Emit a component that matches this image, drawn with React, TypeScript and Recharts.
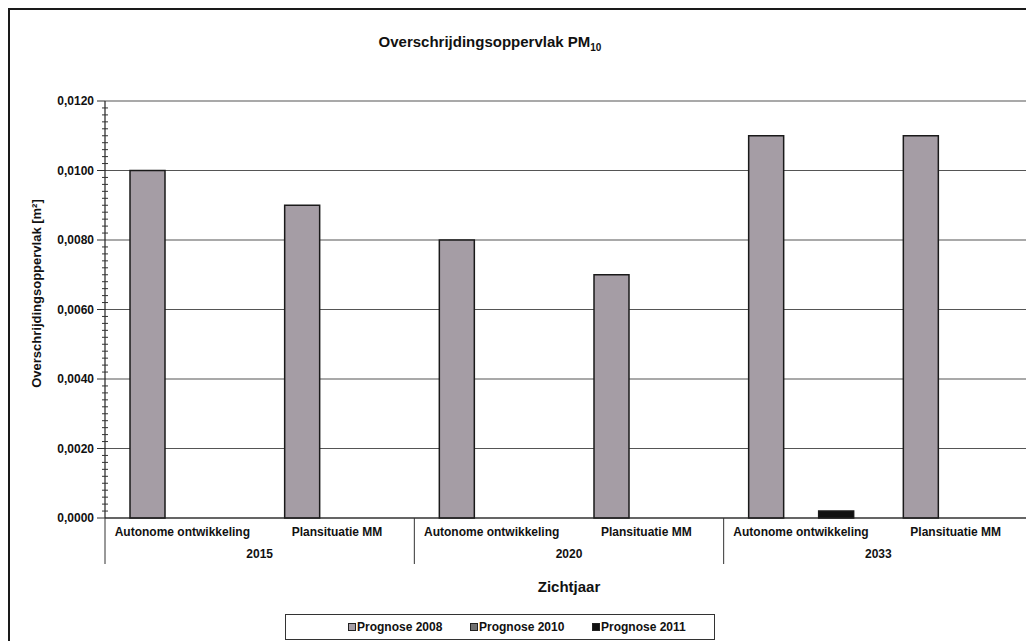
import React from "react";
import { BarChart, Bar, XAxis, YAxis, CartesianGrid, Legend } from "recharts";

const categories = [
  "Autonome ontwikkeling",
  "Plansituatie MM",
  "Autonome ontwikkeling",
  "Plansituatie MM",
  "Autonome ontwikkeling",
  "Plansituatie MM",
];
const years = ["2015", "2020", "2033"];

const prognose2008 = [0.01, 0.009, 0.008, 0.007, 0.011, 0.011];
const prognose2010: (number | null)[] = [null, null, null, null, null, null];
const prognose2011: (number | null)[] = [null, null, null, null, 0.0002, null];

const yMajorTicks = [0, 0.002, 0.004, 0.006, 0.008, 0.01, 0.012];
const MINOR_STEP = 0.0002;

const FONT = '"Liberation Sans", Arial, sans-serif';
const W = 1036;
const H = 646;
const M = { top: 91, right: 13, left: 10, bottom: 22 };
const Y_W = 85;
const X_H = 90;
const catW = (W - M.left - M.right - Y_W) / categories.length;

const data = categories.map((name, i) => ({
  id: i,
  name,
  year: years[Math.floor(i / 2)],
  p2008: prognose2008[i],
  p2010: prognose2010[i],
  p2011: prognose2011[i],
}));

// minor tick marks every 0.0002 on the value axis
const yAllTicks = Array.from(
  { length: Math.round(yMajorTicks[yMajorTicks.length - 1] / MINOR_STEP) + 1 },
  (_, i) => +(i * MINOR_STEP).toFixed(4)
);

const isMajor = (v: number) => yMajorTicks.some((t) => Math.abs(t - v) < 1e-9);

function YTick({ x, y, payload }: any) {
  const v = payload.value;
  if (!isMajor(v)) {
    return <line x1={x - 3} x2={x + 3} y1={y} y2={y} stroke="#333" strokeWidth={1} />;
  }
  return (
    <g>
      <line x1={x - 8} x2={x} y1={y} y2={y} stroke="#333" strokeWidth={1} />
      <text
        x={x - 11}
        y={y}
        dy={4}
        textAnchor="end"
        fontFamily={FONT}
        fontSize={12}
        fontWeight="bold"
        fill="#111"
      >
        {v.toFixed(4).replace(".", ",")}
      </text>
    </g>
  );
}

function XTick({ x, y, payload, index }: any) {
  const i = payload?.index ?? index;
  const d = data[i];
  if (!d) return null;
  const left = x - catW / 2;
  const txt = { fontFamily: FONT, fontSize: 12, fontWeight: "bold" as const, fill: "#111" };
  return (
    <g>
      <text x={x} y={y + 18} textAnchor="middle" {...txt}>
        {d.name}
      </text>
      {i % 2 === 0 && <line x1={left} x2={left} y1={y} y2={y + 46} stroke="#333" />}
      {i % 2 === 1 && (
        <text x={left} y={y + 40} textAnchor="middle" {...txt}>
          {d.year}
        </text>
      )}
      {i === data.length - 1 && (
        <line x1={x + catW / 2} x2={x + catW / 2} y1={y} y2={y + 46} stroke="#333" />
      )}
    </g>
  );
}

function renderLegend(props: any) {
  const items = props.payload || [];
  return (
    <div
      style={{
        height: 26,
        boxSizing: "border-box",
        border: "1px solid #333",
        background: "#fff",
        display: "flex",
        alignItems: "center",
        paddingLeft: 62,
        fontFamily: FONT,
        fontSize: 12,
        fontWeight: "bold",
        color: "#111",
      }}
    >
      {items.map((e: any) => (
        <div key={e.value} style={{ width: 160, display: "flex", alignItems: "center" }}>
          <span
            style={{
              display: "inline-block",
              width: 6,
              height: 6,
              border: "1px solid #222",
              background: e.color,
              marginRight: 1,
            }}
          />
          {e.value}
        </div>
      ))}
    </div>
  );
}

export default function App() {
  return (
    <div
      style={{
        position: "relative",
        width: 1040,
        height: 650,
        border: "2px solid #1a1a1a",
        boxSizing: "border-box",
        background: "#fff",
      }}
    >
      <div
        style={{
          position: "absolute",
          top: 22,
          left: 0,
          width: 960,
          textAlign: "center",
          fontFamily: FONT,
          fontSize: 15,
          lineHeight: "19px",
          fontWeight: "bold",
          color: "#111",
          zIndex: 2,
        }}
      >
        Overschrijdingsoppervlak PM
        <sub style={{ fontSize: 10 }}>10</sub>
      </div>
      <BarChart
        width={W}
        height={H}
        data={data}
        margin={M}
        barSize={35}
        barGap={0}
      >
        <CartesianGrid
          vertical={false}
          horizontalValues={yMajorTicks}
          stroke="#555"
          strokeWidth={1.2}
        />
        <XAxis
          dataKey="id"
          height={X_H}
          interval={0}
          tickLine={false}
          tickSize={0}
          tickMargin={0}
          tick={<XTick />}
          axisLine={{ stroke: "#222", strokeWidth: 1.2 }}
          label={{
            value: "Zichtjaar",
            position: "insideBottom",
            offset: 16,
            style: { fontFamily: FONT, fontSize: 15, fontWeight: "bold", fill: "#111" },
          }}
        />
        <YAxis
          width={Y_W}
          domain={[0, 0.012]}
          ticks={yAllTicks}
          interval={0}
          tickLine={false}
          tickSize={0}
          tickMargin={0}
          tick={<YTick />}
          axisLine={{ stroke: "#222", strokeWidth: 1.2 }}
          label={{
            content: (p: any) => {
              const vb = p.viewBox || {};
              const cx = 26;
              const cy = (vb.y ?? 91) + (vb.height ?? 417) / 2 - 16;
              return (
                <text
                  x={cx}
                  y={cy}
                  transform={`rotate(-90, ${cx}, ${cy})`}
                  textAnchor="middle"
                  dominantBaseline="central"
                  fontFamily={FONT}
                  fontSize={13}
                  fontWeight="bold"
                  fill="#111"
                >
                  Overschrijdingsoppervlak [m²]
                </text>
              );
            },
          }}
        />
        <Legend
          verticalAlign="bottom"
          wrapperStyle={{ left: 275, bottom: 16, width: 430, height: 26 }}
          content={renderLegend}
        />
        <Bar dataKey="p2008" name="Prognose 2008" fill="#a59da5" stroke="#1a1a1a" strokeWidth={1.5} isAnimationActive={false} />
        <Bar dataKey="p2010" name="Prognose 2010" fill="#707070" stroke="#1a1a1a" strokeWidth={1.5} isAnimationActive={false} />
        <Bar dataKey="p2011" name="Prognose 2011" fill="#111111" stroke="#1a1a1a" strokeWidth={1.5} isAnimationActive={false} />
      </BarChart>
    </div>
  );
}
